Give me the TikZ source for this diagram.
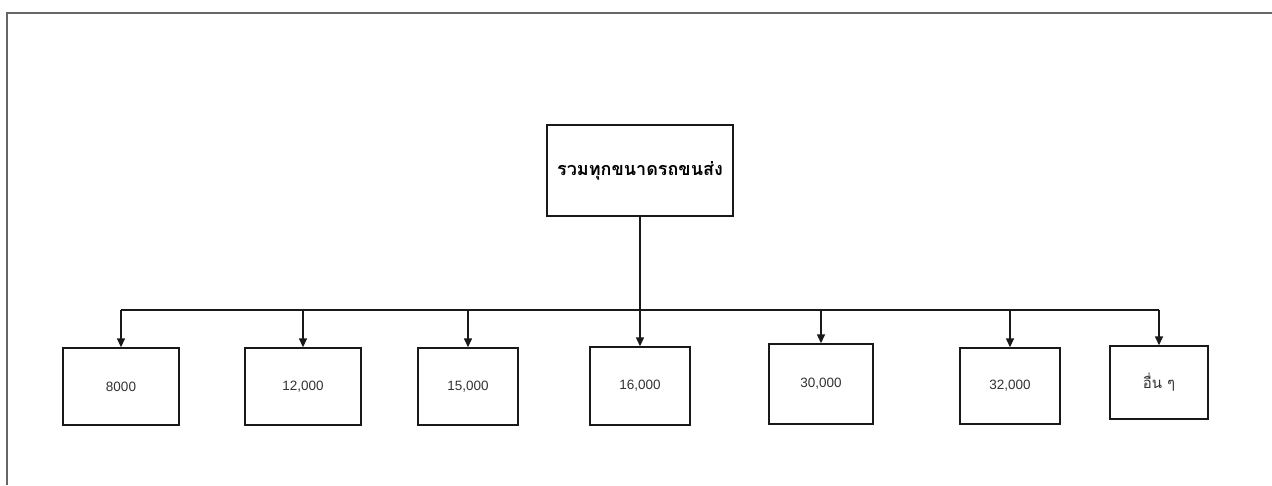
\documentclass[tikz,border=0pt]{standalone}
\usepackage{fontspec}
\setmainfont{Liberation Sans}
\newfontfamily\thaifont[Script=Thai]{Loma}
\usetikzlibrary{arrows.meta}
\begin{document}
\begin{tikzpicture}[x=1pt,y=-1pt,
  box/.style={draw=black!90,line width=1.4pt,inner sep=0pt,anchor=center,
    font=\fontsize{13.5}{15}\selectfont,text=black!80},
  link/.style={draw=black!90,line width=1.4pt},
  down/.style={link,-{Triangle[length=9pt,width=8pt]}}]
\useasboundingbox (0,0) rectangle (1272,485);
% page frame (top and left edges)
\draw[black!60,line width=1.4pt] (1272,13) -- (7,13) -- (7,485);
% root node
\node[box,minimum width=186pt,minimum height=91pt,text=black,
  font=\thaifont\bfseries\fontsize{18}{20}\selectfont] (top) at (640,170.5) {รวมทุกขนาดรถขนส่ง};
% leaf nodes
\node[box,minimum width=116pt,minimum height=77pt] (b1) at (121,386.5) {8000};
\node[box,minimum width=116pt,minimum height=77pt] (b2) at (303,386.5) {12,000};
\node[box,minimum width=100pt,minimum height=77pt] (b3) at (468,386.5) {15,000};
\node[box,minimum width=100pt,minimum height=78pt] (b4) at (640,386) {16,000};
\node[box,minimum width=104pt,minimum height=80pt] (b5) at (821,384) {30,000};
\node[box,minimum width=100pt,minimum height=76pt] (b6) at (1010,386) {32,000};
\node[box,minimum width=98pt,minimum height=73pt,
  font=\thaifont\fontsize{15}{17}\selectfont] (b7) at (1159,382.5) {อื่น ๆ};
% distribution bus
\coordinate (bus) at (0,310);
\draw[link] (top.south) -- (top.south |- bus);
\draw[link] (b1.north |- bus) -- (b7.north |- bus);
\foreach \b in {b1,b2,b3,b4,b5,b6,b7}
  \draw[down] (\b.north |- bus) -- (\b.north);
\end{tikzpicture}
\end{document}
